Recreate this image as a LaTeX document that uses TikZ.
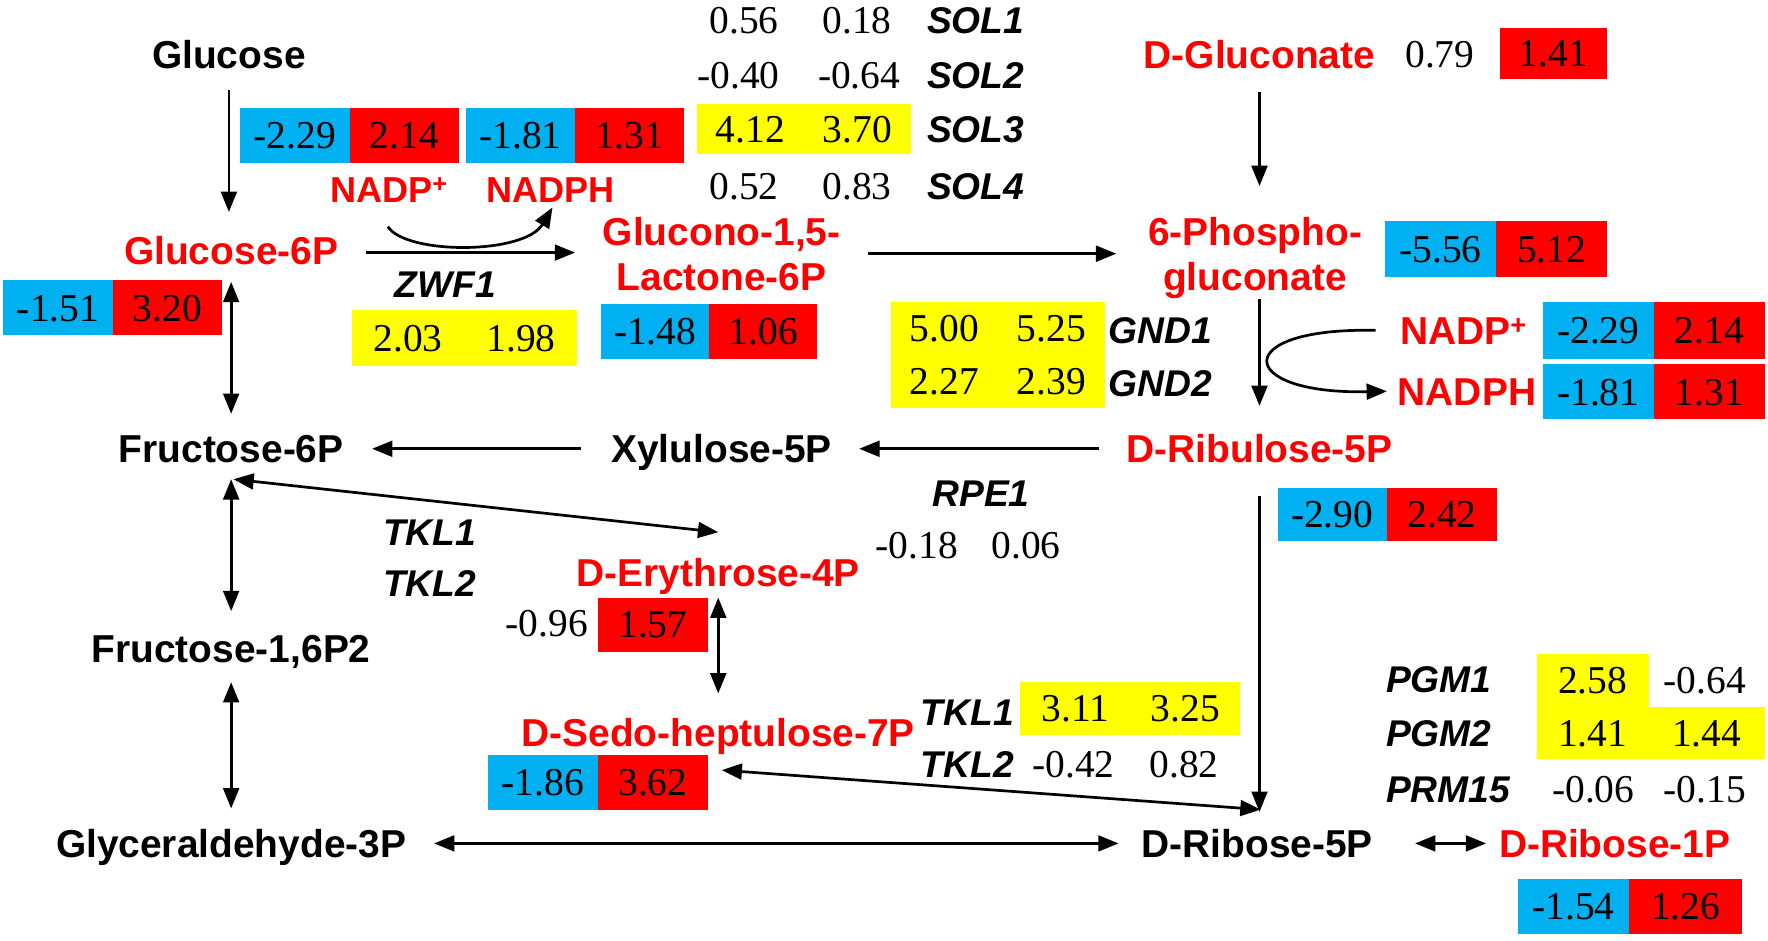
\documentclass[tikz,border=0pt]{standalone}
\usepackage{fontspec}
\setmainfont{Liberation Serif}
\newfontfamily\mysans{Liberation Sans}
\usetikzlibrary{arrows.meta,calc,fit}
\definecolor{cblue}{HTML}{00B0F0}
\definecolor{cred}{HTML}{FF0000}
\definecolor{cyel}{HTML}{FFFF00}
\definecolor{labred}{HTML}{FF0000}
\newcommand\mylabfont{\mysans\bfseries\fontsize{34.5}{40}\selectfont}
\newcommand\mysmalllabfont{\mysans\bfseries\fontsize{32}{37}\selectfont}
\newcommand\mygenefont{\mysans\bfseries\itshape\fontsize{33}{38}\selectfont}
\newcommand\mynumfont{\rmfamily\fontsize{35}{40}\selectfont}
\tikzset{
  lab/.style={font=\mylabfont, inner sep=0pt, text height=24.7pt, text depth=0pt},
  redlab/.style={lab, text=labred},
  smallred/.style={font=\mysmalllabfont, text=labred, inner sep=0pt, text height=22.9pt, text depth=0pt},
  gene/.style={font=\mygenefont, inner sep=0pt, text height=23.6pt, text depth=0pt},
  num/.style={font=\mynumfont, inner sep=0pt, text height=23.5pt, text depth=0pt},
  cell/.style={num, minimum width=97pt, minimum height=49pt},
  bc/.style={cell, fill=cblue},
  rc/.style={cell, fill=cred},
  yc/.style={cell, fill=cyel},
  tip/.tip={Triangle[length=18pt,width=14pt]},
  arr/.style={line width=2.4pt, -tip},
  darr/.style={line width=2.4pt, tip-tip},
}
\begin{document}
\begin{tikzpicture}[x=1pt,y=-1pt]
\fill[white] (0,0) rectangle (1568,834);
\useasboundingbox (0,0) rectangle (1568,834);

% ---------- metabolite labels ----------
\node[lab] (glc) at (203,48) {Glucose};
\node[redlab] (dglu) at (1117,48) {D-Gluconate};
\node[smallred] (nadp1) at (345,168) {NADP\textsuperscript{+}};
\node[smallred] (nadph1) at (488,168) {NADPH};
\node[redlab] (g6p) at (205,222) {Glucose-6P};
\node[redlab] (lac1) at (640,205) {Glucono-1,5-};
\node[redlab] (lac2) at (640,245) {Lactone-6P};
\node[fit=(lac1)(lac2), inner sep=0pt] (lac) {};
\node[redlab] (pg1) at (1113,205) {6-Phospho-};
\node[redlab] (pg2) at (1113,245) {gluconate};
\node[fit=(pg1)(pg2), inner sep=0pt] (pg) {};
\node[redlab] (nadp2) at (1298,293) {NADP\textsuperscript{+}};
\node[redlab] (nadph2) at (1301,347) {NADPH};
\node[lab] (f6p) at (205,398) {Fructose-6P};
\node[lab] (xyl) at (640,398) {Xylulose-5P};
\node[redlab] (rib5) at (1117,398) {D-Ribulose-5P};
\node[redlab] (ery) at (637,508) {D-Erythrose-4P};
\node[lab] (f16) at (205,575) {Fructose-1,6P2};
\node[redlab] (sedo) at (637,650) {D-Sedo-heptulose-7P};
\node[lab] (gly) at (205,748) {Glyceraldehyde-3P};
\node[lab] (drib5) at (1115,748) {D-Ribose-5P};
\node[redlab] (drib1) at (1432,748) {D-Ribose-1P};

% ---------- gene labels ----------
\node[gene, anchor=west] (sol1) at (822,18) {SOL1};
\node[gene, anchor=west] (sol2) at (822,67) {SOL2};
\node[gene, anchor=west] (sol3) at (822,115) {SOL3};
\node[gene, anchor=west] (sol4) at (822,165) {SOL4};
\node[gene] (zwf) at (395,252) {ZWF1};
\node[gene] (gnd1) at (1029,293) {GND1};
\node[gene] (gnd2) at (1029,340) {GND2};
\node[gene] (rpe) at (870,437) {RPE1};
\node[gene] (tkl1a) at (381,472) {TKL1};
\node[gene] (tkl2a) at (381,517) {TKL2};
\node[gene] (tkl1b) at (858,632) {TKL1};
\node[gene] (tkl2b) at (858,678) {TKL2};
\node[gene, anchor=west] (pgm1) at (1229,602) {PGM1};
\node[gene, anchor=west] (pgm2) at (1229,650) {PGM2};
\node[gene, anchor=west] (prm) at (1229,700) {PRM15};

% ---------- values ----------
% SOL table
\node[num] (s11) at (660,18) {0.56};
\node[num] (s12) at (760,18) {0.18};
\node[num] (s21) at (655,67) {-0.40};
\node[num] (s22) at (762,67) {-0.64};
\node[yc, minimum width=95pt, minimum height=45pt] (s31) at (665.5,114.5) {4.12};
\node[yc, minimum width=95pt, minimum height=45pt] (s32) at (760.5,114.5) {3.70};
\node[num] (s41) at (660,165) {0.52};
\node[num] (s42) at (760,165) {0.83};
% NADP+/NADPH (ZWF1)
\node[bc] (b1a) at (261.5,120) {-2.29};
\node[rc] (b1b) at (358.5,120) {2.14};
\node[bc] (b2a) at (461.5,120) {-1.81};
\node[rc] (b2b) at (558.5,120) {1.31};
% ZWF1
\node[yc, minimum width=100pt, minimum height=50pt] (z1) at (362,300) {2.03};
\node[yc, minimum width=100pt, minimum height=50pt] (z2) at (462,300) {1.98};
% Glucose-6P
\node[bc] (b3a) at (51.5,273) {-1.51};
\node[rc] (b3b) at (148.5,273) {3.20};
% Lactone
\node[bc, minimum width=96pt, minimum height=48pt] (b4a) at (581,294) {-1.48};
\node[rc, minimum width=96pt, minimum height=48pt] (b4b) at (677,294) {1.06};
% D-Gluconate
\node[num] (g079) at (1277,48) {0.79};
\node[rc, minimum width=95pt, minimum height=45pt] (g141) at (1377.5,47.5) {1.41};
% 6-Phosphogluconate
\node[bc, minimum width=99pt, minimum height=50pt] (b6a) at (1277.5,221) {-5.56};
\node[rc, minimum width=98pt, minimum height=50pt] (b6b) at (1376,221) {5.12};
% GND
\node[yc, minimum width=95pt, minimum height=47pt] (gn11) at (837.5,291.5) {5.00};
\node[yc, minimum width=95pt, minimum height=47pt] (gn12) at (932.5,291.5) {5.25};
\node[yc, minimum width=95pt, minimum height=47pt] (gn21) at (837.5,338.5) {2.27};
\node[yc, minimum width=95pt, minimum height=47pt] (gn22) at (932.5,338.5) {2.39};
% NADP+/NADPH (GND)
\node[bc, minimum width=99pt, minimum height=50pt] (b7a) at (1417.5,293) {-2.29};
\node[rc, minimum width=98pt, minimum height=50pt] (b7b) at (1516,293) {2.14};
\node[bc, minimum width=99pt, minimum height=49pt] (b8a) at (1417.5,347.5) {-1.81};
\node[rc, minimum width=98pt, minimum height=49pt] (b8b) at (1516,347.5) {1.31};
% RPE1
\node[num] (r1) at (813,484) {-0.18};
\node[num] (r2) at (910,484) {0.06};
% D-Ribulose-5P
\node[bc, minimum height=47pt] (b9a) at (1181.5,456.5) {-2.90};
\node[rc, minimum width=98pt, minimum height=47pt] (b9b) at (1279,456.5) {2.42};
% D-Erythrose-4P
\node[num] (e096) at (485,553) {-0.96};
\node[rc, minimum width=98pt, minimum height=48pt] (e157) at (579,554) {1.57};
% TKL (lower)
\node[yc, minimum width=97.5pt, minimum height=47pt] (t11) at (953.75,628.5) {3.11};
\node[yc, minimum width=97.5pt, minimum height=47pt] (t12) at (1051.25,628.5) {3.25};
\node[num] (t21) at (952,678) {-0.42};
\node[num] (t22) at (1050,678) {0.82};
% D-Sedoheptulose-7P
\node[bc, minimum height=48pt] (b11a) at (481.5,694) {-1.86};
\node[rc, minimum width=98pt, minimum height=48pt] (b11b) at (579,694) {3.62};
% PGM
\node[yc, minimum width=99pt, minimum height=47pt] (p11) at (1412.5,603.5) {2.58};
\node[num] (p12) at (1512,603) {-0.64};
\node[yc, minimum width=99pt, minimum height=46pt] (p21) at (1412.5,650) {1.41};
\node[yc, minimum width=103pt, minimum height=46pt] (p22) at (1513.5,650) {1.44};
\node[num] (p31) at (1413,700) {-0.06};
\node[num] (p32) at (1512,700) {-0.15};
% D-Ribose-1P
\node[bc, minimum width=99pt, minimum height=48pt] (b12a) at (1395.5,804) {-1.54};
\node[rc, minimum width=100pt, minimum height=48pt] (b12b) at (1495,804) {1.26};

% ---------- connectors ----------
\draw[arr] ($(glc)+(0,32)$) -- ($(g6p)+(-2,-34)$);
\draw[darr] ($(g6p)+(0,28)$) -- ($(f6p)+(0,-31)$);
\draw[darr] ($(f6p)+(0,27)$) -- ($(f16)+(0,-33)$);
\draw[darr] ($(f16)+(0,30)$) -- ($(gly)+(0,-31)$);
\draw[arr] ($(g6p)+(120,2)$) -- ($(lac)+(-130,-1)$);
\draw[arr] ($(nadp1)+(-1,33)$) .. controls ($(nadp1)+(15,58)$) and ($(nadph1)+(-23,58)$) .. ($(nadph1)+(2,16)$);
\draw[arr] ($(lac)+(130,0)$) -- ($(pg)+(-123,0)$);
\draw[arr] ($(dglu)+(0,34)$) -- ($(pg)+(4,-60)$);
\draw[arr] ($(pg)+(4,40)$) -- ($(rib5)+(0,-38)$);
\draw[arr] ($(nadp2)+(-78,0)$) .. controls ($(nadp2)+(-208,-3)$) and ($(nadph2)+(-206,3)$) .. ($(nadph2)+(-71,0)$);
\draw[arr] ($(rib5)+(-142,0)$) -- ($(xyl)+(122,0)$);
\draw[arr] ($(xyl)+(-125,0)$) -- ($(f6p)+(125,0)$);
\draw[darr] ($(f6p)+(2,27)$) -- ($(ery)+(0,-36)$);
\draw[darr] ($(ery)+(0,22)$) -- ($(sedo)+(0,-35)$);
\draw[darr] ($(sedo)+(3,33)$) -- ($(drib5)+(3,-30)$);
\draw[arr] ($(rib5)+(0,42)$) -- ($(drib5)+(2,-28)$);
\draw[darr] ($(gly)+(180,0)$) -- ($(drib5)+(-123,0)$);
\draw[darr] ($(drib5)+(140,0)$) -- ($(drib1)+(-114,0)$);
\end{tikzpicture}
\end{document}
